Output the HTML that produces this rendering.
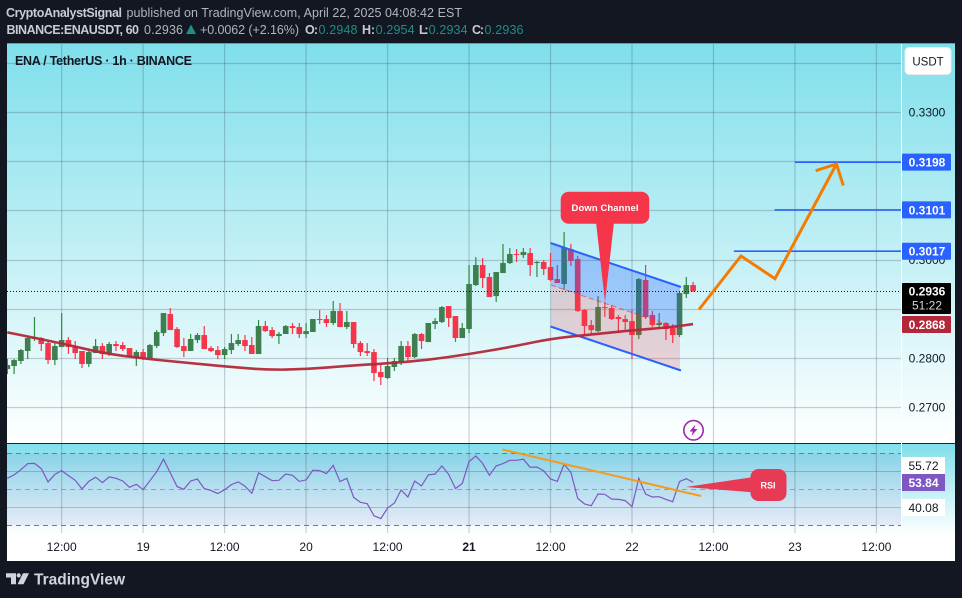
<!DOCTYPE html>
<html lang="en">
<head>
<meta charset="utf-8">
<title>ENA / TetherUS chart</title>
<style>
html,body{margin:0;padding:0;background:#131722;width:962px;height:598px;overflow:hidden}
svg{display:block}
text{font-family:"Liberation Sans",sans-serif}
</style>
</head>
<body>
<svg id="root" xmlns="http://www.w3.org/2000/svg" width="962" height="598" viewBox="0 0 962 598">
<defs>
<linearGradient id="mainGrad" x1="0" y1="0" x2="0" y2="1"><stop offset="0" stop-color="#7fdfeb"/><stop offset="1" stop-color="#ffffff"/></linearGradient>
<linearGradient id="rsiGrad" x1="0" y1="0" x2="0" y2="1"><stop offset="0" stop-color="#7fdfeb"/><stop offset="1" stop-color="#ffffff"/></linearGradient>
<clipPath id="plotClip"><rect x="7" y="44" width="894" height="490"/></clipPath>
</defs>
<rect x="0" y="0" width="962" height="598" fill="#131722"/>

<g font-size="12.5">
<text x="6" y="17" font-weight="700" fill="#c8cbd2" textLength="116">CryptoAnalystSignal</text>
<text x="126.5" y="17" fill="#b2b5be" textLength="335.5">published on TradingView.com, April 22, 2025 04:08:42 EST</text>
<text x="6.5" y="34" font-weight="700" fill="#c8cbd2" textLength="132.5">BINANCE:ENAUSDT, 60</text>
<text x="144" y="34" fill="#b2b5be" textLength="39">0.2936</text>
<polygon points="186,34 191,24.5 196,34" fill="#1f8e85"/>
<text x="200" y="34" fill="#b2b5be" textLength="99">+0.0062 (+2.16%)</text>
<text x="305" y="34" font-weight="700" fill="#c8cbd2" textLength="13">O:</text>
<text x="318.5" y="34" fill="#1f8e85" textLength="39">0.2948</text>
<text x="362" y="34" font-weight="700" fill="#c8cbd2" textLength="13">H:</text>
<text x="375.6" y="34" fill="#1f8e85" textLength="39">0.2954</text>
<text x="419" y="34" font-weight="700" fill="#c8cbd2" textLength="9.5">L:</text>
<text x="428.6" y="34" fill="#1f8e85" textLength="39">0.2934</text>
<text x="472" y="34" font-weight="700" fill="#c8cbd2" textLength="12">C:</text>
<text x="484.5" y="34" fill="#1f8e85" textLength="39">0.2936</text>
</g>

<rect x="7" y="43.5" width="948" height="517.5" fill="#ffffff"/>
<rect x="7" y="44" width="948" height="399" fill="url(#mainGrad)"/>
<rect x="7" y="444" width="948" height="91" fill="url(#rsiGrad)"/>
<rect x="7" y="453.3" width="894" height="72" fill="#7e57c2" fill-opacity="0.1"/>

<g id="gridLayer"></g>
<g id="rsiGuides"></g>
<g id="candleLayer" clip-path="url(#plotClip)"></g>

<g>
<polygon points="551,243 680,287 680,329 551,285" fill="#2962ff" fill-opacity="0.3"/>
<polygon points="551,285 680,329 680,370.5 551,326.5" fill="#f23645" fill-opacity="0.2"/>
<line x1="550.5" y1="243" x2="681" y2="287" stroke="#2962ff" stroke-width="2"/>
<line x1="551" y1="285" x2="680" y2="329" stroke="#f23645" stroke-width="1" stroke-dasharray="5 3" opacity="0.7"/>
<line x1="550.5" y1="326.5" x2="681" y2="370.5" stroke="#2962ff" stroke-width="2"/>
</g>

<path id="emaLine" fill="none" stroke="#b2283a" stroke-width="2.6" stroke-opacity="0.95" stroke-linejoin="round"/>
<line id="lastPriceLine" x1="7" x2="901" stroke="#131722" stroke-width="1" stroke-dasharray="1 2"/>
<g id="levelLayer"></g>

<g>
<polygon points="596,222 614,222 605,302" fill="#f5364a"/>
<rect x="560.7" y="191.7" width="88.6" height="32" rx="8" fill="#f5364a"/>
<text x="605" y="211" text-anchor="middle" font-size="9.5" font-weight="700" fill="#ffffff" textLength="67">Down Channel</text>
</g>

<g fill="none" stroke="#f57c00" stroke-width="3" stroke-linejoin="miter">
<polyline points="699,309.5 741,256 775,278.7 836.5,164"/>
<polyline points="815.7,170.7 836.5,164 843.3,185.5"/>
</g>

<g>
<circle cx="693.5" cy="430.3" r="9.7" fill="#ffffff" stroke="#9c27b0" stroke-width="1.6"/>
<polygon points="695.5,424.5 689.5,431.5 692.8,431.5 691.5,436 697.5,429 694.2,429" fill="#9c27b0"/>
</g>

<line x1="7" y1="443.5" x2="955" y2="443.5" stroke="#1f2430" stroke-width="1"/>
<g id="rsiLayer" clip-path="url(#plotClip)"></g>

<line x1="502.5" y1="449.5" x2="701" y2="496" stroke="#f59b1c" stroke-width="2"/>
<g>
<polygon points="752,477.3 752,492.3 685.7,487" fill="#e63a55"/>
<rect x="750.5" y="469" width="36" height="32" rx="8" fill="#e63a55"/>
<text x="768" y="488.5" text-anchor="middle" font-size="9" font-weight="700" fill="#ffffff">RSI</text>
</g>

<line x1="901.5" y1="44" x2="901.5" y2="535" stroke="#ffffff" stroke-width="1"/>
<g id="priceAxis" font-size="12"></g>
<g id="levelLabels" font-size="12" font-weight="700"></g>
<g>
<rect x="902" y="283" width="49" height="31" rx="1" fill="#000000"/>
<text x="927" y="295.5" text-anchor="middle" font-size="12" font-weight="700" fill="#ffffff">0.2936</text>
<text x="927" y="309.5" text-anchor="middle" font-size="12" fill="#d1d4dc">51:22</text>
</g>
<g>
<rect x="902" y="316" width="49" height="17" rx="1" fill="#b2283a"/>
<text x="927" y="329" text-anchor="middle" font-size="12" font-weight="700" fill="#ffffff">0.2868</text>
</g>
<g>
<rect x="905" y="47.5" width="46" height="27" rx="4" fill="#ffffff" stroke="#e8eaee" stroke-width="1"/>
<text x="928" y="65.5" text-anchor="middle" font-size="11.5" fill="#131722">USDT</text>
</g>
<g font-size="12">
<rect x="902" y="457" width="43" height="17" fill="#ffffff"/>
<text x="923.5" y="470" text-anchor="middle" fill="#131722">55.72</text>
<rect x="902" y="474" width="43" height="17" fill="#7e57c2"/>
<text x="923.5" y="487" text-anchor="middle" font-weight="700" fill="#ffffff">53.84</text>
<rect x="902" y="499" width="43" height="17" fill="#ffffff"/>
<text x="923.5" y="512" text-anchor="middle" fill="#131722">40.08</text>
</g>

<text x="15" y="65" font-size="12.5" font-weight="700" fill="#131722" textLength="177">ENA / TetherUS · 1h · BINANCE</text>
<g id="timeAxis" font-size="12" fill="#131722"></g>

<g>
<polygon points="6,573.3 16,573.3 16,584.3 11,584.3 11,577.5 6,577.5" fill="#d1d4dc"/>
<circle cx="18.7" cy="575.4" r="2.1" fill="#d1d4dc"/>
<polygon points="23,573.3 29,573.3 23.5,584.3 17.5,584.3" fill="#d1d4dc"/>
<text x="34" y="584.5" font-size="15.5" font-weight="700" fill="#d1d4dc" textLength="91">TradingView</text>
</g>
</svg>

<script>
const candleOpen = [0.27776,0.27837,0.27939,0.28142,0.28386,0.28406,0.28304,0.27959,0.28223,0.28365,0.28243,0.28142,0.27878,0.28101,0.28243,0.28081,0.28284,0.28264,0.28203,0.28000,0.28121,0.28000,0.28243,0.28507,0.28894,0.28589,0.28243,0.28142,0.28365,0.28467,0.28203,0.28162,0.28060,0.28162,0.28284,0.28365,0.28264,0.28081,0.28650,0.28568,0.28446,0.28487,0.28650,0.28629,0.28487,0.28528,0.28792,0.28792,0.28711,0.28955,0.28629,0.28731,0.28304,0.28141,0.28121,0.27715,0.27593,0.27817,0.27918,0.28243,0.28020,0.28487,0.28324,0.28690,0.28731,0.29056,0.28853,0.28406,0.28589,0.29483,0.29890,0.29646,0.29259,0.29727,0.29930,0.30113,0.30093,0.30134,0.29930,0.29951,0.29849,0.29605,0.29504,0.30215,0.30012,0.28975,0.28670,0.28548,0.29036,0.29016,0.28833,0.28792,0.28751,0.28467,0.29585,0.28873,0.28670,0.28711,0.28609,0.28467,0.29300,0.29483];
const candleHigh = [0.27979,0.27979,0.28182,0.28446,0.28833,0.28426,0.28345,0.28304,0.28914,0.28426,0.28345,0.28142,0.28142,0.28386,0.28304,0.28325,0.28345,0.28325,0.28203,0.28162,0.28182,0.28284,0.28568,0.28914,0.29016,0.28629,0.28406,0.28487,0.28507,0.28650,0.28243,0.28243,0.28223,0.28487,0.28487,0.28467,0.28426,0.28772,0.28751,0.28629,0.28528,0.28670,0.28711,0.28711,0.28711,0.28792,0.28975,0.28873,0.29158,0.29117,0.28955,0.28731,0.28345,0.28304,0.28182,0.27857,0.28000,0.28000,0.28345,0.28345,0.28507,0.28507,0.28711,0.28812,0.29056,0.29056,0.28853,0.28711,0.29890,0.30052,0.30032,0.29727,0.29747,0.30317,0.30235,0.30215,0.30235,0.30235,0.29971,0.29991,0.30134,0.29890,0.30561,0.30317,0.30073,0.28995,0.28772,0.29260,0.29138,0.29077,0.28873,0.28873,0.28975,0.29626,0.29890,0.28955,0.28914,0.28731,0.28690,0.29341,0.29646,0.29544];
const candleLow = [0.27674,0.27674,0.27878,0.27979,0.28345,0.28142,0.27878,0.27857,0.28223,0.28081,0.27979,0.27796,0.27816,0.28101,0.27979,0.28040,0.28142,0.28142,0.28020,0.27837,0.27959,0.28000,0.28203,0.28446,0.28568,0.28203,0.28020,0.28142,0.28304,0.28182,0.28121,0.27979,0.27979,0.28081,0.28243,0.28142,0.28081,0.28081,0.28528,0.28406,0.28284,0.28487,0.28487,0.28406,0.28406,0.28528,0.28690,0.28629,0.28670,0.28629,0.28589,0.28202,0.28040,0.28040,0.27531,0.27450,0.27572,0.27735,0.27857,0.27938,0.28000,0.28182,0.28324,0.28589,0.28711,0.28629,0.28324,0.28406,0.28507,0.29463,0.29422,0.29239,0.29138,0.29727,0.29910,0.29951,0.30032,0.29666,0.29646,0.29686,0.29565,0.29524,0.29382,0.29870,0.28935,0.28487,0.28487,0.28528,0.28833,0.28772,0.28507,0.28568,0.27979,0.28386,0.28792,0.28629,0.28589,0.28365,0.28304,0.28426,0.29219,0.29341];
const candleClose = [0.27857,0.27959,0.28162,0.28406,0.28426,0.28284,0.27959,0.28243,0.28365,0.28223,0.28101,0.27878,0.28121,0.28243,0.28081,0.28284,0.28243,0.28182,0.28040,0.28121,0.28000,0.28264,0.28528,0.28914,0.28568,0.28223,0.28142,0.28386,0.28467,0.28182,0.28142,0.28060,0.28182,0.28304,0.28365,0.28243,0.28081,0.28650,0.28548,0.28446,0.28487,0.28650,0.28609,0.28487,0.28548,0.28792,0.28772,0.28711,0.28955,0.28629,0.28731,0.28284,0.28121,0.28101,0.27694,0.27613,0.27837,0.27938,0.28243,0.28020,0.28487,0.28345,0.28711,0.28751,0.29036,0.28812,0.28406,0.28609,0.29503,0.29890,0.29625,0.29239,0.29747,0.29930,0.30113,0.30093,0.30154,0.29890,0.29951,0.29808,0.29585,0.29524,0.30236,0.29971,0.28955,0.28650,0.28568,0.29036,0.29016,0.28792,0.28792,0.28731,0.28467,0.29605,0.28833,0.28670,0.28711,0.28589,0.28467,0.29321,0.29483,0.29360];
const firstBarHour = -92;
const emaHours = [-92,-84,-78,-72,-66,-60,-54,-48,-42,-36,-30,-24,-18,-12,-6,0,6,9];
const emaValues = [0.2852,0.2830,0.2810,0.2799,0.2791,0.2783,0.2776,0.2777,0.2784,0.2789,0.2796,0.2808,0.2822,0.2839,0.2848,0.2856,0.2863,0.2869];
const rsiValues = [56.1,58.0,60.9,64.3,64.4,61.5,54.1,58.3,60.4,57.6,55.0,50.2,54.4,56.7,53.7,56.9,56.1,54.6,51.1,52.8,49.8,54.8,59.8,66.7,59.1,51.5,50.0,54.6,55.7,50.4,49.4,47.6,49.8,52.6,54.1,51.7,47.8,59.1,57.0,54.8,55.0,58.5,57.8,54.4,55.2,60.6,60.4,58.7,63.3,54.3,56.1,45.6,42.8,42.0,35.3,33.7,39.6,42.4,49.6,45.7,54.6,51.9,58.0,58.5,63.0,58.3,50.4,53.3,65.4,68.5,64.4,57.8,63.0,64.3,66.1,66.1,66.7,62.2,62.4,60.2,55.7,54.4,63.9,59.4,45.0,41.9,40.9,47.4,47.2,44.6,44.4,43.7,40.4,56.1,47.4,45.7,45.9,44.4,43.1,54.3,55.9,53.84];
const priceGridValues = [0.34,0.33,0.32,0.31,0.30,0.29,0.28,0.27];
const priceTickValues = [0.33,0.30,0.28,0.27];
const priceTickLabels = ["0.3300","0.3000","0.2800","0.2700"];
const levelPrices = [0.3198,0.3101,0.3017];
const levelStartHours = [24,21,15];
const levelLabels = ["0.3198","0.3101","0.3017"];
const lastPrice = 0.2936;
const timeHours = [-84,-72,-60,-48,-36,-24,-12,0,12,24,36];
const timeLabels = ["12:00","19","12:00","20","12:00","21","12:00","22","12:00","23","12:00"];
const rsiGridLevels = [60,40];
const rsiBandLevels = [70,50,30];

const NS = "http://www.w3.org/2000/svg";
const xOfHour = h => 632 + 6.79 * h;
const yOfPrice = p => 112 + (0.33 - p) * 4920;
const yOfRsi = v => 489.3 - (v - 50) * 1.8;
const mk = (tag, parent) => { const el = document.createElementNS(NS, tag); parent.appendChild(el); return el; };

const gridLayer = document.getElementById("gridLayer");
priceGridValues.forEach(p => {
  const el = mk("line", gridLayer);
  
  
  const y = Math.round(yOfPrice(p)) + 0.5;
  el.setAttribute("x1", 7); el.setAttribute("x2", 901);
  el.setAttribute("y1", y); el.setAttribute("y2", y);
  el.setAttribute("stroke", "#2a2e39"); el.setAttribute("stroke-opacity", "0.22");
  el.setAttribute("stroke-width", "1.2");
});
timeHours.forEach(h => {
  const el = mk("line", gridLayer);
  
  
  const x = xOfHour(h);
  el.setAttribute("x1", x); el.setAttribute("x2", x);
  el.setAttribute("y1", 44); el.setAttribute("y2", 533);
  el.setAttribute("stroke", "#2a2e39"); el.setAttribute("stroke-opacity", "0.22");
  el.setAttribute("stroke-width", "1.2");
});

const rsiGuides = document.getElementById("rsiGuides");
rsiGridLevels.forEach(v => {
  const el = mk("line", rsiGuides);
  
  
  const y = Math.round(yOfRsi(v)) + 0.5;
  el.setAttribute("x1", 7); el.setAttribute("x2", 901);
  el.setAttribute("y1", y); el.setAttribute("y2", y);
  el.setAttribute("stroke", "#2a2e39"); el.setAttribute("stroke-opacity", "0.25");
});
rsiBandLevels.forEach(v => {
  const el = mk("line", rsiGuides);
  
  
  const y = Math.round(yOfRsi(v)) + 0.5;
  el.setAttribute("x1", 7); el.setAttribute("x2", 901);
  el.setAttribute("y1", y); el.setAttribute("y2", y);
  el.setAttribute("stroke", "#787b86");
  el.setAttribute("stroke-dasharray", "5 4");
  if (v === 50) el.setAttribute("stroke-opacity", "0.6");
});

const candleLayer = document.getElementById("candleLayer");
candleOpen.forEach((o, i) => {
  const c = candleClose[i];
  const up = c >= o;
  const x = xOfHour(firstBarHour + i);
  const wick = mk("rect", candleLayer);
  
  
  wick.setAttribute("x", x - 0.6);
  wick.setAttribute("width", 1.2);
  wick.setAttribute("y", yOfPrice(candleHigh[i]));
  wick.setAttribute("height", yOfPrice(candleLow[i]) - yOfPrice(candleHigh[i]));
  wick.setAttribute("fill", up ? "#2e8b3e" : "#f5364a");
  const body = mk("rect", candleLayer);
  
  
  const top = yOfPrice(Math.max(o, c));
  const h = Math.max(1, yOfPrice(Math.min(o, c)) - top);
  body.setAttribute("x", x - 2.8);
  body.setAttribute("width", 5.6);
  body.setAttribute("y", top);
  body.setAttribute("height", h);
  body.setAttribute("fill", up ? "#3d7f4e" : "#f5364a");
});

const emaPts = emaHours.map((h, i) => [xOfHour(h), yOfPrice(emaValues[i])]);
let emaPath = "M" + emaPts[0][0].toFixed(1) + " " + emaPts[0][1].toFixed(1);
for (let i = 1; i < emaPts.length - 1; i++) {
  const mx = (emaPts[i][0] + emaPts[i + 1][0]) / 2;
  const my = (emaPts[i][1] + emaPts[i + 1][1]) / 2;
  emaPath += " Q" + emaPts[i][0].toFixed(1) + " " + emaPts[i][1].toFixed(1) + " " + mx.toFixed(1) + " " + my.toFixed(1);
}
emaPath += " L" + emaPts[emaPts.length - 1][0].toFixed(1) + " " + emaPts[emaPts.length - 1][1].toFixed(1);
document.getElementById("emaLine").setAttribute("d", emaPath);

const lp = document.getElementById("lastPriceLine");
const lpy = Math.round(yOfPrice(lastPrice)) + 0.5;
lp.setAttribute("y1", lpy);
lp.setAttribute("y2", lpy);

const rsiLine = mk("path", document.getElementById("rsiLayer"));


rsiLine.setAttribute("fill", "none");
rsiLine.setAttribute("stroke", "#7e57c2");
rsiLine.setAttribute("stroke-width", "1.2");
rsiLine.setAttribute("d", rsiValues.map((v, i) => (i ? "L" : "M") + xOfHour(firstBarHour + i).toFixed(1) + " " + yOfRsi(v).toFixed(1)).join(" "));

const priceAxis = document.getElementById("priceAxis");
priceTickValues.forEach((p, i) => {
  const t = mk("text", priceAxis);
  
  
  t.setAttribute("x", 927);
  t.setAttribute("y", yOfPrice(p) + 4.5);
  t.setAttribute("text-anchor", "middle");
  t.setAttribute("fill", "#131722");
  t.textContent = priceTickLabels[i];
});

const levelLayer = document.getElementById("levelLayer");
const levelLabelLayer = document.getElementById("levelLabels");
levelPrices.forEach((p, i) => {
  const y = yOfPrice(p);
  const l = mk("line", levelLayer);
  
  
  l.setAttribute("x1", xOfHour(levelStartHours[i]));
  l.setAttribute("x2", 901);
  l.setAttribute("y1", y); l.setAttribute("y2", y);
  l.setAttribute("stroke", "#2962ff"); l.setAttribute("stroke-width", "1.6");
  const r = mk("rect", levelLabelLayer);
  
  
  r.setAttribute("x", 902); r.setAttribute("y", y - 8.5);
  r.setAttribute("width", 49); r.setAttribute("height", 17);
  r.setAttribute("rx", 1); r.setAttribute("fill", "#2962ff");
  const t = mk("text", levelLabelLayer);
  
  
  t.setAttribute("x", 927); t.setAttribute("y", y + 4.5);
  t.setAttribute("text-anchor", "middle"); t.setAttribute("fill", "#ffffff");
  t.textContent = levelLabels[i];
});

const timeAxis = document.getElementById("timeAxis");
timeHours.forEach((h, i) => {
  const t = mk("text", timeAxis);
  
  
  t.setAttribute("x", xOfHour(h));
  t.setAttribute("y", 551);
  t.setAttribute("text-anchor", "middle");
  if (timeLabels[i] === "21") t.setAttribute("font-weight", "700");
  t.textContent = timeLabels[i];
});
</script>
</body>
</html>
